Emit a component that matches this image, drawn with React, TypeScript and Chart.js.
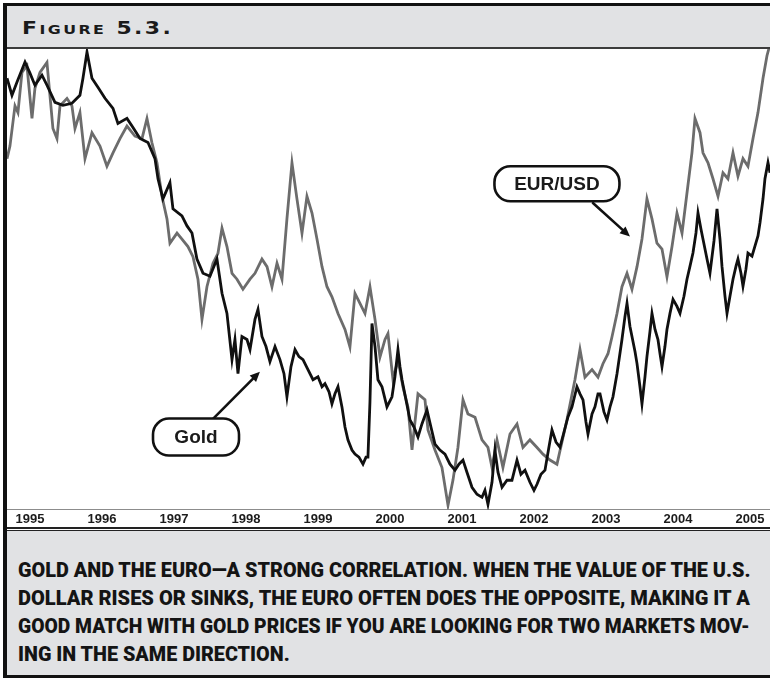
import React, { useEffect, useLayoutEffect, useRef } from "react";
import { Chart, registerables } from "chart.js";

Chart.register(...registerables);

// ---------- data ----------
const yearTicks = [1995, 1996, 1997, 1998, 1999, 2000, 2001, 2002, 2003, 2004, 2005];

const goldDates = [
  1994.681, 1994.75, 1994.819, 1994.931, 1995.0, 1995.069, 1995.167, 1995.236, 1995.347, 1995.458,
  1995.583, 1995.694, 1995.736, 1995.792, 1995.861, 1995.944, 1996.042, 1996.153, 1996.222, 1996.347,
  1996.431, 1996.528, 1996.639, 1996.736, 1996.778, 1996.847, 1996.944, 1996.986, 1997.111, 1997.181,
  1997.25, 1997.319, 1997.403, 1997.5, 1997.597, 1997.667, 1997.736, 1997.806, 1997.847, 1997.889,
  1997.944, 1998.014, 1998.056, 1998.125, 1998.167, 1998.222, 1998.278, 1998.333, 1998.403, 1998.472,
  1998.528, 1998.569, 1998.625, 1998.681, 1998.736, 1998.792, 1998.861, 1998.931, 1999.0, 1999.056,
  1999.097, 1999.153, 1999.194, 1999.236, 1999.278, 1999.333, 1999.375, 1999.417, 1999.472, 1999.514,
  1999.569, 1999.625, 1999.667, 1999.694, 1999.722, 1999.75, 1999.792, 1999.833, 1999.889, 1999.958,
  2000.028, 2000.069, 2000.111, 2000.139, 2000.167, 2000.222, 2000.278, 2000.333, 2000.389, 2000.444,
  2000.514, 2000.569, 2000.625, 2000.694, 2000.764, 2000.833, 2000.903, 2000.958, 2001.014, 2001.069,
  2001.139, 2001.208, 2001.278, 2001.319, 2001.361, 2001.417, 2001.458, 2001.5, 2001.556, 2001.625,
  2001.694, 2001.764, 2001.819, 2001.875, 2001.944, 2002.0, 2002.042, 2002.097, 2002.153, 2002.208,
  2002.25, 2002.306, 2002.361, 2002.417, 2002.472, 2002.528, 2002.597, 2002.639, 2002.681, 2002.722,
  2002.75, 2002.806, 2002.847, 2002.889, 2002.917, 2002.972, 2003.014, 2003.056, 2003.097, 2003.153,
  2003.222, 2003.264, 2003.292, 2003.333, 2003.361, 2003.403, 2003.431, 2003.472, 2003.5, 2003.542,
  2003.569, 2003.611, 2003.639, 2003.681, 2003.722, 2003.75, 2003.778, 2003.819, 2003.847, 2003.889,
  2003.931, 2003.986, 2004.028, 2004.083, 2004.125, 2004.167, 2004.208, 2004.25, 2004.278, 2004.319,
  2004.347, 2004.403, 2004.444, 2004.5, 2004.542, 2004.583, 2004.611, 2004.653, 2004.681, 2004.722,
  2004.764, 2004.806, 2004.833, 2004.875, 2004.903, 2004.944, 2004.972, 2005.028, 2005.069, 2005.111,
  2005.139, 2005.181, 2005.208, 2005.25, 2005.278,
];

const goldPrices = [
  416.6, 409.8, 415.0, 423.0, 418.6, 413.8, 417.8, 413.8, 407.0, 405.8,
  406.6, 409.8, 416.6, 427.0, 416.6, 413.0, 408.6, 404.6, 398.6, 400.6,
  397.0, 392.6, 391.0, 384.6, 376.6, 368.6, 375.0, 364.6, 361.8, 357.8,
  355.0, 344.6, 339.0, 337.8, 344.6, 331.0, 323.0, 304.6, 312.6, 299.0,
  313.8, 312.6, 308.6, 320.6, 324.6, 313.8, 309.8, 303.8, 309.8, 304.6,
  299.0, 289.8, 301.8, 308.6, 305.8, 304.6, 300.6, 296.6, 297.8, 293.8,
  295.0, 291.8, 287.0, 291.0, 293.8, 285.8, 277.8, 272.6, 268.6, 267.0,
  265.8, 263.0, 265.8, 265.8, 287.8, 319.0, 309.8, 296.6, 293.8, 285.8,
  289.8, 297.8, 308.6, 301.8, 296.6, 288.6, 280.6, 277.8, 273.8, 279.0,
  284.6, 277.8, 271.0, 268.6, 267.0, 263.0, 260.6, 263.0, 264.6, 259.8,
  253.8, 251.0, 249.8, 252.6, 247.0, 255.8, 268.6, 259.8, 253.8, 256.6,
  256.6, 264.6, 259.0, 260.6, 255.8, 252.6, 255.0, 259.0, 260.6, 269.8,
  276.6, 271.8, 269.8, 275.8, 281.8, 285.8, 293.8, 291.0, 288.6, 279.8,
  275.0, 283.0, 285.8, 291.0, 291.0, 283.8, 280.6, 285.8, 289.8, 299.0,
  312.6, 321.8, 327.0, 317.8, 313.8, 307.8, 303.0, 293.8, 287.0, 297.8,
  305.8, 315.8, 323.0, 316.6, 312.6, 307.0, 301.8, 309.8, 316.6, 323.0,
  328.6, 325.8, 323.0, 329.8, 336.6, 341.8, 347.0, 355.0, 363.0, 356.6,
  352.6, 344.6, 339.0, 351.8, 364.6, 352.6, 341.8, 329.8, 323.0, 329.8,
  336.6, 341.8, 344.6, 339.0, 333.8, 340.6, 347.0, 345.8, 349.8, 353.8,
  359.0, 368.6, 376.6, 383.0, 379.0,
];

const eurDates = [
  1994.681, 1994.722, 1994.792, 1994.833, 1994.889, 1994.958, 1995.028, 1995.069, 1995.139, 1995.236,
  1995.278, 1995.319, 1995.375, 1995.417, 1995.514, 1995.583, 1995.625, 1995.694, 1995.764, 1995.861,
  1995.972, 1996.069, 1996.153, 1996.25, 1996.347, 1996.458, 1996.556, 1996.625, 1996.694, 1996.764,
  1996.833, 1996.903, 1996.944, 1997.042, 1997.111, 1997.194, 1997.264, 1997.333, 1997.389, 1997.458,
  1997.542, 1997.611, 1997.667, 1997.736, 1997.806, 1997.875, 1997.958, 1998.056, 1998.125, 1998.222,
  1998.292, 1998.361, 1998.431, 1998.5, 1998.569, 1998.639, 1998.708, 1998.778, 1998.847, 1998.917,
  1998.986, 1999.056, 1999.125, 1999.194, 1999.278, 1999.375, 1999.444, 1999.514, 1999.583, 1999.653,
  1999.722, 1999.792, 1999.861, 1999.931, 1999.972, 2000.042, 2000.111, 2000.181, 2000.25, 2000.306,
  2000.389, 2000.486, 2000.528, 2000.625, 2000.722, 2000.806, 2000.875, 2000.944, 2001.014, 2001.083,
  2001.181, 2001.278, 2001.361, 2001.417, 2001.486, 2001.569, 2001.667, 2001.764, 2001.847, 2001.944,
  2002.042, 2002.125, 2002.222, 2002.319, 2002.458, 2002.569, 2002.639, 2002.708, 2002.806, 2002.889,
  2002.958, 2003.028, 2003.083, 2003.153, 2003.222, 2003.292, 2003.361, 2003.431, 2003.5, 2003.569,
  2003.639, 2003.708, 2003.778, 2003.847, 2003.917, 2003.986, 2004.056, 2004.125, 2004.194, 2004.236,
  2004.306, 2004.347, 2004.417, 2004.486, 2004.556, 2004.625, 2004.694, 2004.764, 2004.833, 2004.903,
  2004.972, 2005.042, 2005.111, 2005.181, 2005.236, 2005.264,
];

const eurRates = [
  1.239, 1.254, 1.302, 1.294, 1.342, 1.35, 1.287, 1.323, 1.342, 1.354,
  1.314, 1.275, 1.263, 1.302, 1.311, 1.302, 1.275, 1.294, 1.239, 1.27,
  1.254, 1.23, 1.246, 1.263, 1.278, 1.266, 1.263, 1.287, 1.258, 1.234,
  1.194, 1.167, 1.138, 1.15, 1.143, 1.134, 1.122, 1.095, 1.047, 1.086,
  1.114, 1.126, 1.156, 1.134, 1.102, 1.095, 1.083, 1.095, 1.102, 1.119,
  1.11, 1.086, 1.114, 1.095, 1.167, 1.234, 1.191, 1.15, 1.194, 1.174,
  1.143, 1.11, 1.086, 1.074, 1.054, 1.035, 1.014, 1.078, 1.066, 1.054,
  1.086, 1.047, 1.002, 1.023, 1.03, 0.975, 0.999, 0.966, 0.942, 0.891,
  0.958, 0.951, 0.915, 0.891, 0.87, 0.825, 0.855, 0.894, 0.951, 0.934,
  0.93, 0.903, 0.894, 0.87, 0.903, 0.87, 0.91, 0.922, 0.894, 0.903,
  0.894, 0.886, 0.879, 0.874, 0.927, 0.975, 1.011, 0.978, 0.987, 0.978,
  0.994, 1.006, 1.026, 1.054, 1.086, 1.102, 1.083, 1.11, 1.143, 1.191,
  1.167, 1.138, 1.131, 1.098, 1.134, 1.174, 1.15, 1.198, 1.246, 1.287,
  1.27, 1.246, 1.234, 1.215, 1.194, 1.222, 1.215, 1.246, 1.218, 1.239,
  1.23, 1.263, 1.294, 1.335, 1.362, 1.371,
];

const captionLines = [
  "GOLD AND THE EURO\u2014A STRONG CORRELATION. WHEN THE VALUE OF THE U.S.",
  "DOLLAR RISES OR SINKS, THE EURO OFTEN DOES THE OPPOSITE, MAKING IT A",
  "GOOD MATCH WITH GOLD PRICES IF YOU ARE LOOKING FOR TWO MARKETS MOV-",
  "ING IN THE SAME DIRECTION.",
];
const captionWidths = [732, 732, 732, 272];

// callouts anchored in data coordinates
const callouts = [
  { label: "Gold", axis: "yGold", cx: 1997.306, cy: 273.8, w: 86, h: 37, fx: 1997.542, fy: 281.0, tx: 1998.194, ty: 299.8 },
  { label: "EUR/USD", axis: "yEur", cx: 2002.319, cy: 1.209, w: 125, h: 35, fx: 2002.819, fy: 1.186, tx: 2003.333, ty: 1.146 },
];

const calloutPlugin = {
  id: "callouts",
  afterDatasetsDraw(chart: any) {
    const ctx = chart.ctx;
    const xs = chart.scales.x;
    ctx.save();
    for (const c of callouts) {
      const ys = chart.scales[c.axis];
      const cx = xs.getPixelForValue(c.cx);
      const cy = ys.getPixelForValue(c.cy);
      const fx = xs.getPixelForValue(c.fx);
      const fy = ys.getPixelForValue(c.fy);
      const tx = xs.getPixelForValue(c.tx);
      const ty = ys.getPixelForValue(c.ty);
      const ang = Math.atan2(ty - fy, tx - fx);
      const headLen = 10;
      ctx.strokeStyle = "#111";
      ctx.fillStyle = "#111";
      ctx.lineWidth = 2.6;
      ctx.lineCap = "round";
      ctx.beginPath();
      ctx.moveTo(fx, fy);
      ctx.lineTo(tx - Math.cos(ang) * headLen * 0.8, ty - Math.sin(ang) * headLen * 0.8);
      ctx.stroke();
      ctx.beginPath();
      ctx.moveTo(tx, ty);
      ctx.lineTo(tx - headLen * Math.cos(ang) + 4.5 * Math.sin(ang), ty - headLen * Math.sin(ang) - 4.5 * Math.cos(ang));
      ctx.lineTo(tx - headLen * Math.cos(ang) - 4.5 * Math.sin(ang), ty - headLen * Math.sin(ang) + 4.5 * Math.cos(ang));
      ctx.closePath();
      ctx.fill();
      const x0 = cx - c.w / 2;
      const y0 = cy - c.h / 2;
      ctx.beginPath();
      ctx.roundRect(x0, y0, c.w, c.h, 16);
      ctx.fillStyle = "#fff";
      ctx.fill();
      ctx.lineWidth = 2.6;
      ctx.strokeStyle = "#111";
      ctx.stroke();
      ctx.fillStyle = "#1a1a1a";
      ctx.font = "bold 19px 'Liberation Sans', Arial, sans-serif";
      ctx.textAlign = "center";
      ctx.textBaseline = "middle";
      ctx.fillText(c.label, cx, cy + 1);
    }
    ctx.restore();
  },
};

function FitText({ text, width, style }: { text: string; width: number; style: any }) {
  const ref = useRef<HTMLSpanElement>(null);
  useLayoutEffect(() => {
    const el = ref.current;
    if (!el) return;
    el.style.transform = "none";
    const w = el.offsetWidth;
    if (w > 0) el.style.transform = `scaleX(${width / w})`;
  }, [text, width]);
  return (
    <span
      ref={ref}
      style={{ display: "inline-block", whiteSpace: "nowrap", transformOrigin: "0 0", position: "absolute", ...style }}
    >
      {text}
    </span>
  );
}

export default function App() {
  const canvasRef = useRef<HTMLCanvasElement>(null);

  useEffect(() => {
    const canvas = canvasRef.current;
    if (!canvas) return;
    const chart = new Chart(canvas, {
      type: "line",
      data: {
        datasets: [
          {
            label: "Gold",
            data: goldDates.map((d, i) => ({ x: d, y: goldPrices[i] })),
            borderColor: "#101010",
            borderWidth: 2.8,
            pointRadius: 0,
            tension: 0,
            yAxisID: "yGold",
          },
          {
            label: "EUR/USD",
            data: eurDates.map((d, i) => ({ x: d, y: eurRates[i] })),
            borderColor: "#6c6c6c",
            borderWidth: 2.8,
            pointRadius: 0,
            tension: 0,
            yAxisID: "yEur",
          },
        ],
      },
      options: {
        animation: false,
        responsive: false,
        devicePixelRatio: 1,
        layout: { padding: 0 },
        plugins: { legend: { display: false }, tooltip: { enabled: false } },
        scales: {
          x: {
            type: "linear",
            min: 1994.681,
            max: 2005.278,
            afterBuildTicks: (axis: any) => {
              axis.ticks = yearTicks.map((v) => ({ value: v }));
            },
            ticks: {
              autoSkip: false,
              maxRotation: 0,
              padding: 2,
              color: "#1c1c1c",
              font: { family: "'Liberation Sans', Arial, sans-serif", size: 13, weight: "bold" },
              callback: (v: any) => String(v),
            },
            grid: { display: false, drawTicks: false },
            border: { display: true, color: "#8c8c8c", width: 1 },
          },
          yGold: { display: false, min: 245, max: 428.2 },
          yEur: { display: false, min: 0.82, max: 1.37 },
        },
      },
      plugins: [calloutPlugin],
    } as any);
    return () => chart.destroy();
  }, []);

  const captionFont = {
    fontFamily: "Roboto, 'Liberation Sans', sans-serif",
    fontWeight: 900,
    fontSize: "19.5px",
    lineHeight: "19px",
    color: "#141414",
  };

  return (
    <div style={{ position: "absolute", left: 0, top: 0, width: 770, height: 679, background: "#fff", overflow: "hidden" }}>
      {/* frame */}
      <div style={{ position: "absolute", left: 4, top: 3, width: 766, height: 3, background: "#111" }} />
      <div style={{ position: "absolute", left: 3, top: 3, width: 4, height: 675, background: "#111" }} />
      {/* header */}
      <div style={{ position: "absolute", left: 7, top: 6, width: 763, height: 41, background: "#e1e2e4" }} />
      <div style={{ position: "absolute", left: 7, top: 47, width: 763, height: 2, background: "#3c3c3c" }} />
      <FitText
        text="Figure 5.3."
        width={151}
        style={{
          left: 22,
          top: 19,
          fontFamily: "'DejaVu Sans', sans-serif",
          fontVariant: "small-caps",
          fontWeight: 700,
          fontSize: "18px",
          lineHeight: "18px",
          letterSpacing: "2px",
          color: "#1a1a1a",
        }}
      />
      {/* chart */}
      <canvas
        ref={canvasRef}
        width={763}
        height={480}
        style={{ position: "absolute", left: 7, top: 49, width: 763, height: 480 }}
      />
      {/* double rule */}
      <div style={{ position: "absolute", left: 7, top: 527, width: 763, height: 1.5, background: "#222" }} />
      <div style={{ position: "absolute", left: 7, top: 529.5, width: 763, height: 1.5, background: "#222" }} />
      {/* caption */}
      <div style={{ position: "absolute", left: 7, top: 531, width: 763, height: 144, background: "#e1e2e4" }} />
      {captionLines.map((t, i) => (
        <FitText key={i} text={t} width={captionWidths[i]} style={{ left: 18, top: 561 + i * 28, ...captionFont }} />
      ))}
      <div style={{ position: "absolute", left: 3, top: 675, width: 767, height: 3, background: "#111" }} />
    </div>
  );
}
